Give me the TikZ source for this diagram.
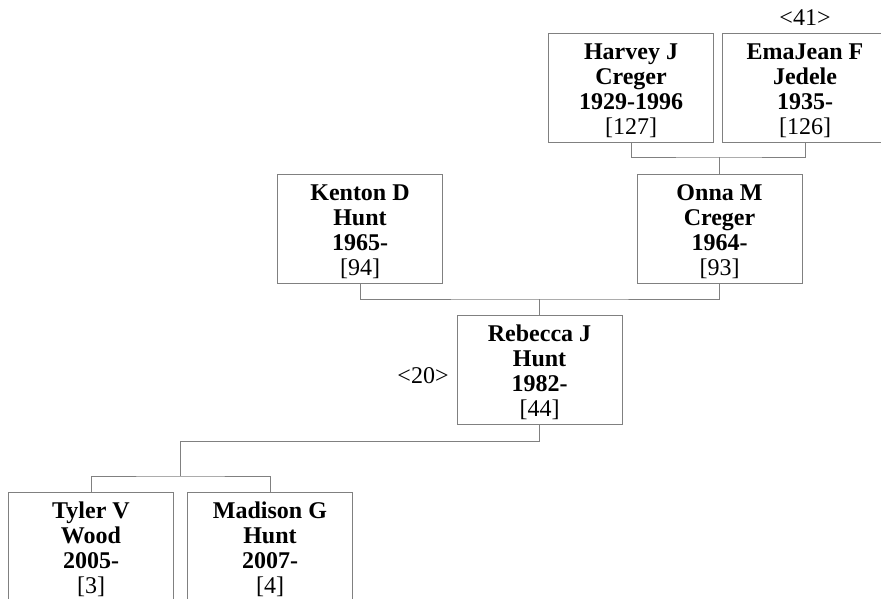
\documentclass[tikz,border=0pt]{standalone}
\usepackage{fontspec}
\setmainfont{Liberation Serif}
\newcommand{\toprule}{\rule{0pt}{22pt}}
\begin{document}
\begin{tikzpicture}[x=1pt,y=-1pt,
  person/.style={draw=black!50,line width=1pt,fill=white,minimum width=165pt,minimum height=109pt,
    inner sep=0pt,outer sep=0pt,align=center,font=\fontsize{24}{25}\selectfont\bfseries},
  link/.style={draw=black!50,line width=1pt},
  tag/.style={inner sep=0pt,font=\fontsize{24}{25}\selectfont}]
\useasboundingbox (0,0) rectangle (881,598);
\node[person] (harvey) at (631,87.5) {\toprule Harvey J\\Creger\\1929-1996\\{\mdseries [127]}};
\node[person] (ema) at (805,87.5) {\toprule EmaJean F\\Jedele\\1935-\\{\mdseries [126]}};
\node[tag] (t41) at (805,18) {<41>};
\node[person] (kenton) at (360,228.5) {\toprule Kenton D\\Hunt\\1965-\\{\mdseries [94]}};
\node[person] (onna) at (719.5,228.5) {\toprule Onna M\\Creger\\1964-\\{\mdseries [93]}};
\node[person] (rebecca) at (539.5,369.5) {\toprule Rebecca J\\Hunt\\1982-\\{\mdseries [44]}};
\node[tag] (t20) at (423,376) {<20>};
\node[person] (tyler) at (91,546.5) {\toprule Tyler V\\Wood\\2005-\\{\mdseries [3]}};
\node[person] (madison) at (270,546.5) {\toprule Madison G\\Hunt\\2007-\\{\mdseries [4]}};
\coordinate (j1) at (719.5,157);
\coordinate (j2) at (539.5,299);
\coordinate (j3) at (180,476);
\draw[link] (harvey.south) |- (j1) -| (ema.south);
\draw[link] (j1) -- (onna.north);
\draw[link] (kenton.south) |- (j2) -| (onna.south);
\draw[link] (j2) -- (rebecca.north);
\draw[link] (rebecca.south) -- ++(0,17) -| (j3);
\draw[link] (tyler.north) |- (j3) -| (madison.north);
\end{tikzpicture}
\end{document}
